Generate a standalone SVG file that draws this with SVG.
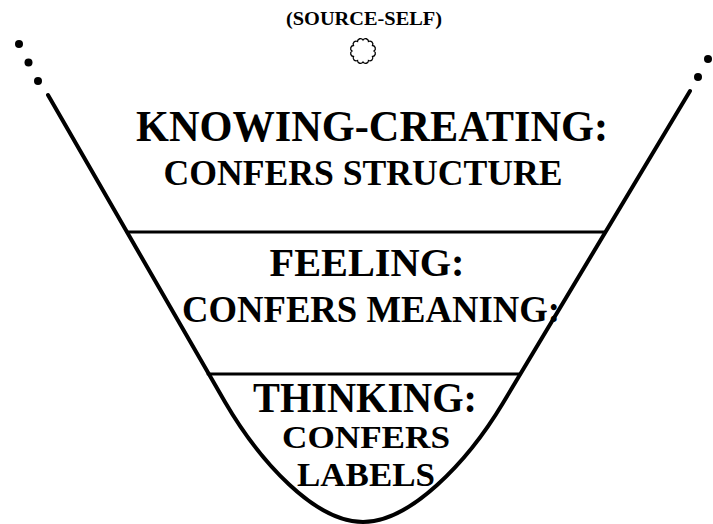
<svg xmlns="http://www.w3.org/2000/svg" width="713" height="524" viewBox="0 0 713 524">
<style>
text{font-family:"Liberation Serif","Times New Roman",serif;font-weight:bold;fill:#000;text-anchor:middle}
.edge{fill:none;stroke:#000;stroke-linecap:round;stroke-linejoin:round}
.dot{fill:#000}
</style>
<rect width="713" height="524" fill="#fff"/>
<g id="connectors">
<path id="funnel" class="edge" stroke-width="4" d="M48,95 L225,402 C260,462 315,522 363,522 C410,522 467,463 503,403 L690,91"/>
<line class="edge" stroke-width="3" x1="127" y1="232" x2="605" y2="232"/>
<line class="edge" stroke-width="3" x1="208" y1="374" x2="520" y2="374"/>
<circle class="dot" cx="19" cy="44" r="4"/>
<circle class="dot" cx="28.5" cy="62.5" r="4"/>
<circle class="dot" cx="38" cy="81" r="4"/>
<circle class="dot" cx="698" cy="77" r="4"/>
<circle class="dot" cx="708" cy="59" r="4"/>
<circle class="dot" cx="718" cy="41" r="4"/>
</g>
<g id="source-self">
<text x="364" y="25" font-size="18" textLength="156" lengthAdjust="spacingAndGlyphs">(SOURCE-SELF)</text>
<path fill="none" stroke="#000" stroke-width="1.3" d="M374,51 A3,3 0 0 1 372.53,56.5 A3,3 0 0 1 368.5,60.53 A3,3 0 0 1 363,62 A3,3 0 0 1 357.5,60.53 A3,3 0 0 1 353.47,56.5 A3,3 0 0 1 352,51 A3,3 0 0 1 353.47,45.5 A3,3 0 0 1 357.5,41.47 A3,3 0 0 1 363,40 A3,3 0 0 1 368.5,41.47 A3,3 0 0 1 372.53,45.5 A3,3 0 0 1 374,51 Z"/>
</g>
<g id="knowing-creating">
<text x="372" y="141" font-size="45" textLength="472" lengthAdjust="spacingAndGlyphs">KNOWING-CREATING:</text>
<text x="363" y="185" font-size="36" textLength="399" lengthAdjust="spacingAndGlyphs">CONFERS STRUCTURE</text>
</g>
<g id="feeling">
<text x="367" y="276" font-size="40" textLength="195" lengthAdjust="spacingAndGlyphs">FEELING:</text>
<text x="371" y="322" font-size="38" textLength="378" lengthAdjust="spacingAndGlyphs">CONFERS MEANING:</text>
</g>
<g id="thinking">
<text x="365" y="412" font-size="42" textLength="224" lengthAdjust="spacingAndGlyphs">THINKING:</text>
<text x="366" y="448" font-size="32" textLength="168" lengthAdjust="spacingAndGlyphs">CONFERS</text>
<text x="366" y="486" font-size="33" textLength="138" lengthAdjust="spacingAndGlyphs">LABELS</text>
</g>
</svg>
